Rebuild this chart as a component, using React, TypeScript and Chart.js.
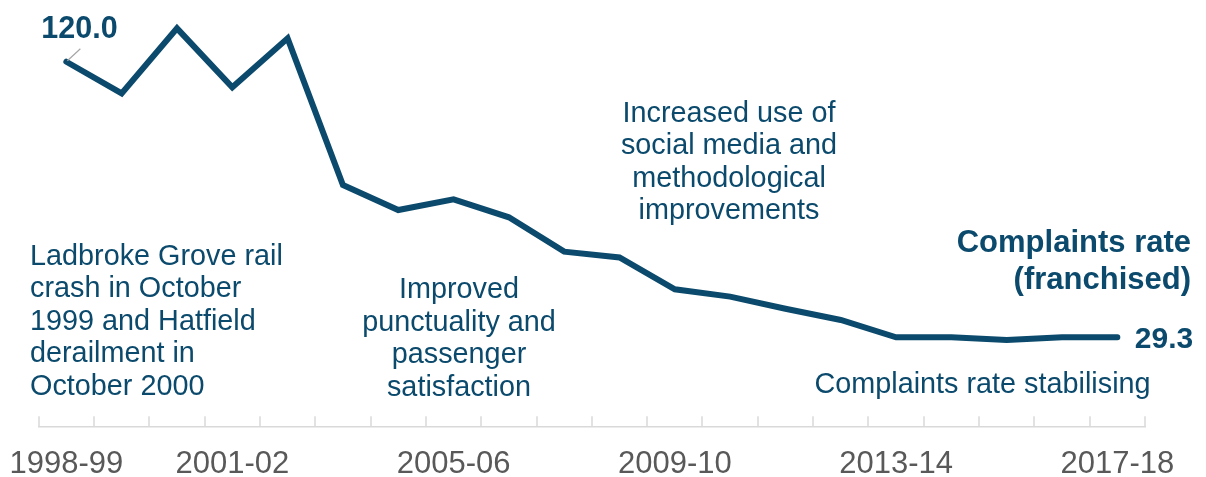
import React, { useEffect, useRef } from 'react';
import { Chart, registerables } from 'chart.js';

Chart.register(...registerables);

// ---- Data ----
const categories = [
  '1998-99', '1999-00', '2000-01', '2001-02', '2002-03', '2003-04', '2004-05',
  '2005-06', '2006-07', '2007-08', '2008-09', '2009-10', '2010-11', '2011-12',
  '2012-13', '2013-14', '2014-15', '2015-16', '2016-17', '2017-18',
];
const complaintsRate = [
  120.0, 109.6, 131.0, 111.6, 127.7, 79.4, 71.2, 74.7, 68.8, 57.5,
  55.6, 45.1, 42.7, 38.7, 35.0, 29.3, 29.3, 28.4, 29.3, 29.3,
];
const shownTickLabels = ['1998-99', '2001-02', '2005-06', '2009-10', '2013-14', '2017-18'];
const yMin = 0;
const yMax = 140;
const seriesName = ['Complaints rate', '(franchised)'];

const noteLadbroke = ['Ladbroke Grove rail', 'crash in October', '1999 and Hatfield', 'derailment in', 'October 2000'];
const noteImproved = ['Improved', 'punctuality and', 'passenger', 'satisfaction'];
const noteSocial = ['Increased use of', 'social media and', 'methodological', 'improvements'];
const noteStable = ['Complaints rate stabilising'];

// ---- Styles ----
const FONT = "'Liberation Sans', Arial, sans-serif";
const BLUE = '#0b4a6c';
const GREY_TEXT = '#595959';
const AXIS_GREY = '#d9d9d9';

const overlayPlugin = {
  id: 'overlay',
  afterDraw(chart: any) {
    const { ctx, chartArea } = chart;
    const x = chart.scales.x;
    const y = chart.scales.y;
    ctx.save();

    // upward tick marks at category boundaries
    const axisY = chartArea.bottom;
    ctx.strokeStyle = AXIS_GREY;
    ctx.lineWidth = 1.5;
    for (let i = 0; i <= categories.length; i++) {
      const px = Math.round(x.getPixelForValue(i - 0.5));
      ctx.beginPath();
      ctx.moveTo(px, axisY);
      ctx.lineTo(px, axisY - 10);
      ctx.stroke();
    }

    // first value label with leader line
    const fx = x.getPixelForValue(0);
    const fy = y.getPixelForValue(complaintsRate[0]);
    ctx.strokeStyle = '#a6a6a6';
    ctx.lineWidth = 1.2;
    ctx.beginPath();
    ctx.moveTo(fx + 1, fy - 1);
    ctx.lineTo(fx + 14, fy - 13);
    ctx.stroke();

    ctx.fillStyle = BLUE;
    ctx.textBaseline = 'alphabetic';
    ctx.font = `bold 30.5px ${FONT}`;
    ctx.textAlign = 'left';
    ctx.fillText(complaintsRate[0].toFixed(1), fx - 25, fy - 23.5);

    // last value label
    const last = complaintsRate.length - 1;
    const lx = x.getPixelForValue(last);
    const ly = y.getPixelForValue(complaintsRate[last]);
    ctx.font = `bold 30px ${FONT}`;
    ctx.fillText(complaintsRate[last].toFixed(1), lx + 17.5, ly + 11);

    // series name
    ctx.font = `bold 31px ${FONT}`;
    ctx.textAlign = 'right';
    ctx.fillText(seriesName[0], 1191, 251.5);
    ctx.fillText(seriesName[1], 1191, 289);

    // annotations
    ctx.font = `28.8px ${FONT}`;
    ctx.textAlign = 'left';
    noteLadbroke.forEach((t, i) => ctx.fillText(t, 30, 264.5 + i * 32.5));
    ctx.textAlign = 'center';
    noteImproved.forEach((t, i) => ctx.fillText(t, 459, 298.3 + i * 32.5));
    noteSocial.forEach((t, i) => ctx.fillText(t, 729, 121.7 + i * 32.4));
    noteStable.forEach((t, i) => ctx.fillText(t, 982.5, 393 + i * 32.5));

    ctx.restore();
  },
};

export default function App() {
  const canvasRef = useRef<HTMLCanvasElement | null>(null);

  useEffect(() => {
    if (!canvasRef.current) return;
    const chart = new Chart(canvasRef.current, {
      type: 'line',
      data: {
        labels: categories,
        datasets: [
          {
            label: seriesName.join(' '),
            data: complaintsRate,
            borderColor: BLUE,
            borderWidth: 6,
            borderCapStyle: 'round',
            borderJoinStyle: 'miter',
            pointRadius: 0,
            pointHoverRadius: 0,
            tension: 0,
            fill: false,
          },
        ],
      },
      options: {
        animation: false,
        responsive: true,
        maintainAspectRatio: false,
        layout: { padding: { top: 1, left: 38.7, right: 61, bottom: 0 } },
        plugins: {
          legend: { display: false },
          tooltip: { enabled: false },
          title: { display: false },
        },
        scales: {
          x: {
            type: 'category',
            offset: true,
            grid: { display: false, drawTicks: false, offset: true },
            border: { display: true, color: AXIS_GREY, width: 1.5 },
            ticks: {
              autoSkip: false,
              maxRotation: 0,
              minRotation: 0,
              padding: 19.5,
              color: GREY_TEXT,
              font: { family: FONT, size: 31 },
              callback: (_v: any, i: number) =>
                shownTickLabels.includes(categories[i]) ? categories[i] : '',
            },
            afterFit: (scale: any) => {
              scale.height = 50.7;
              scale.paddingLeft = 0;
              scale.paddingRight = 0;
            },
          },
          y: {
            display: false,
            min: yMin,
            max: yMax,
          },
        },
      },
      plugins: [overlayPlugin],
    });
    return () => chart.destroy();
  }, []);

  return (
    <div style={{ position: 'fixed', left: 0, top: 0, width: 1206, height: 477, background: '#fff' }}>
      <canvas ref={canvasRef} />
    </div>
  );
}
